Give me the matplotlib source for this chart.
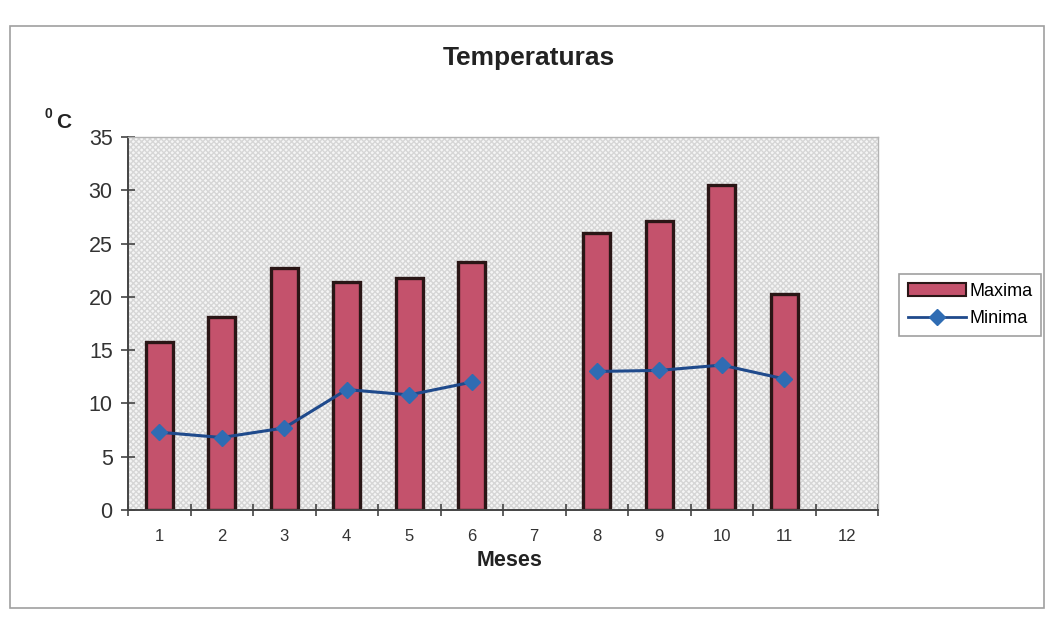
import matplotlib.pyplot as plt
import numpy as np
from matplotlib.patches import Rectangle
from matplotlib.lines import Line2D

plt.rcParams['font.family'] = ['Liberation Sans', 'DejaVu Sans']

meses = ['1', '2', '3', '4', '5', '6', '7', '8', '9', '10', '11', '12']
maxima = [15.8, 18.1, 22.7, 21.4, 21.8, 23.3, np.nan, 26.0, 27.1, 30.5, 20.3, np.nan]
minima = [7.3, 6.8, 7.7, 11.3, 10.8, 12.0, np.nan, 13.0, 13.1, 13.6, 12.3, np.nan]

bar_color = '#c4526c'
line_color = '#1f4a8c'
marker_color = '#2f6cb3'

fig = plt.figure(figsize=(10.47, 6.17), dpi=100)
ax = fig.add_axes([128/1047, 1-510/617, 750/1047, 373/617])

# outer chart frame
fig.patches.append(Rectangle((10/1047, 1-608/617), 1034/1047, 582/617,
                             transform=fig.transFigure, fill=False,
                             edgecolor='#a0a0a0', lw=1.2))

# gray hatched plot area
ax.set_facecolor('#f5f5f5')
ax.add_patch(Rectangle((0, 0), 1, 1, transform=ax.transAxes, facecolor='#f5f5f5',
                       edgecolor='#d6d6d6', hatch='xxxxxx', lw=0, zorder=0))

x = np.arange(len(meses))
ax.bar(x, maxima, width=0.43, color=bar_color, edgecolor='#2a1616', lw=2.4, zorder=2)
ax.plot(x, minima, color=line_color, lw=2.2, marker='D', markersize=8.5,
        markerfacecolor=marker_color, markeredgecolor=marker_color, zorder=3)

ax.set_xlim(-0.5, 11.5)
ax.set_ylim(0, 35)
ax.set_yticks(range(0, 36, 5))
ax.set_xticks(x)
ax.set_xticklabels(meses, fontsize=12, color='#333333')
ax.set_xticks(np.arange(-0.5, 12, 1), minor=True)
ax.tick_params(axis='x', which='major', length=0, pad=14)
ax.tick_params(axis='x', which='minor', direction='inout', length=8, width=1.2, color='#444444')
ax.tick_params(axis='y', direction='inout', length=10, width=1.2, color='#444444',
               labelsize=15.5, labelcolor='#333333', pad=6)

for s in ['top', 'right']:
    ax.spines[s].set_color('#b4b4b4')
    ax.spines[s].set_linewidth(1)
for s in ['left', 'bottom']:
    ax.spines[s].set_color('#444444')
    ax.spines[s].set_linewidth(1.4)

fig.text(529/1047, 1-58/617, 'Temperaturas', ha='center', va='center',
         fontsize=19, fontweight='bold', color='#222222')
fig.text(510/1047, 1-560/617, 'Meses', ha='center', va='center',
         fontsize=15.5, fontweight='bold', color='#222222')
fig.text(48/1047, 1-114/617, '0', ha='center', va='center', fontsize=10,
         fontweight='bold', color='#222222')
fig.text(64/1047, 1-123/617, 'C', ha='center', va='center', fontsize=15,
         fontweight='bold', color='#222222')

handles = [Rectangle((0, 0), 1, 1, facecolor=bar_color, edgecolor='#2a1616', lw=1.5),
           Line2D([], [], color=line_color, lw=2, marker='D', markersize=8,
                  markerfacecolor=marker_color, markeredgecolor=marker_color)]
leg = fig.legend(handles, ['Maxima', 'Minima'], loc='center',
                 bbox_to_anchor=(970/1047, 1-305/617), fontsize=13,
                 frameon=True, fancybox=False, edgecolor='#888888',
                 handlelength=3.2, handletextpad=0.2, borderpad=0.5, labelspacing=0.6)
leg.get_frame().set_linewidth(1.2)

fig.savefig('out.png', dpi=100)
